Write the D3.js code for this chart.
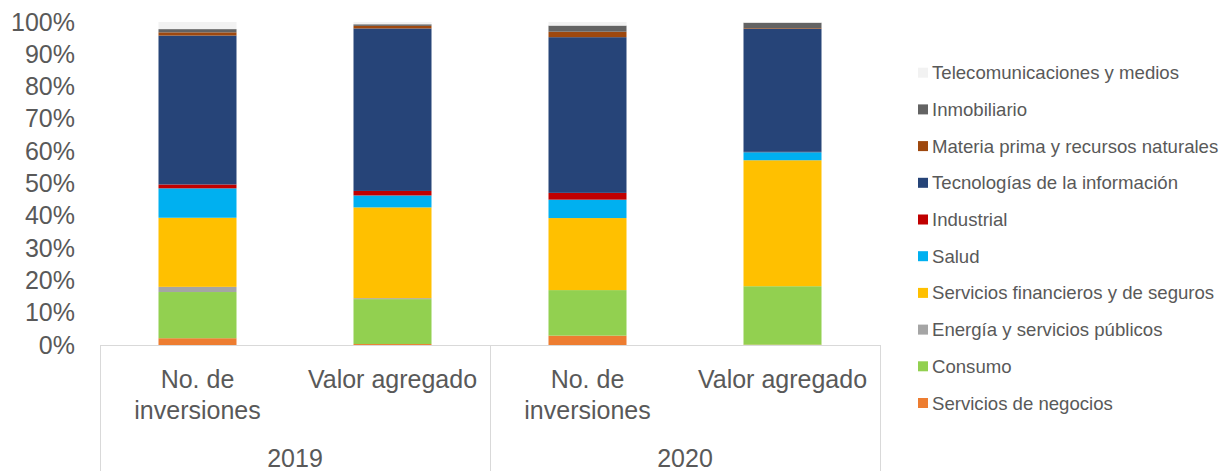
<!DOCTYPE html>
<html>
<head>
<meta charset="utf-8">
<script src="https://cdn.jsdelivr.net/npm/d3@7"></script>
<style>
  body { margin: 0; background: #fff; }
  text { font-family: "Liberation Sans", Arial, sans-serif; fill: #595959; }
</style>
</head>
<body>
<svg id="vis_svg" width="1230" height="471"></svg>
<script>
// bars, left to right
let categories = ['No. de inversiones', 'Valor agregado', 'No. de inversiones', 'Valor agregado'];
let years = ['2019', '2020'];
let yTicks = [0, 0.1, 0.2, 0.3, 0.4, 0.5, 0.6, 0.7, 0.8, 0.9, 1];

// stacked from bottom to top
let seriesNames = [
    'Servicios de negocios',
    'Consumo',
    'Energía y servicios públicos',
    'Servicios financieros y de seguros',
    'Salud',
    'Industrial',
    'Tecnologías de la información',
    'Materia prima y recursos naturales',
    'Inmobiliario',
    'Telecomunicaciones y medios'
];
let seriesColors = ['#ed7d31', '#92d050', '#a5a5a5', '#ffc000', '#00b0f0',
    '#c00000', '#264478', '#9e480e', '#636363', '#f2f2f2'];

// percent share per bar
let negocios     = [2.1, 0.3, 2.9, 0.1];
let consumo      = [14.3, 13.9, 14.1, 18.1];
let energia      = [1.6, 0.3, 0.0, 0.0];
let financieros  = [21.4, 28.1, 22.3, 39.0];
let salud        = [9.1, 3.7, 5.7, 2.5];
let industrial   = [1.2, 1.4, 2.1, 0.1];
let tecnologias  = [46.1, 50.3, 48.2, 38.1];
let materia      = [1.0, 0.8, 1.7, 0.2];
let inmobiliario = [1.0, 0.5, 1.9, 1.7];
let telecom      = [2.2, 0.7, 1.1, 0.2];

let seriesValues = [negocios, consumo, energia, financieros, salud,
    industrial, tecnologias, materia, inmobiliario, telecom];

function drawVis() {
    let svg = d3.select('svg#vis_svg');

    let left = 100, right = 880, top = 22, bottom = 345;

    // build rows for d3.stack
    let rows = categories.map(function(c, i) {
        let row = {key: i};
        seriesNames.forEach(function(s, j) {
            row[s] = seriesValues[j][i] / 100;
        });
        return row;
    });
    let stacked = d3.stack().keys(seriesNames)(rows);

    let x = d3.scaleBand()
        .domain(d3.range(categories.length))
        .range([left, right])
        .paddingInner(0.6)
        .paddingOuter(0.3);
    let y = d3.scaleLinear().domain([0, 1]).range([bottom, top]);
    let color = d3.scaleOrdinal().domain(seriesNames).range(seriesColors);

    // bars
    let layers = svg.append('g').selectAll('g')
        .data(stacked)
        .enter()
        .append('g')
        .attr('fill', d => color(d.key));
    layers.selectAll('rect')
        .data(d => d)
        .enter()
        .append('rect')
        .attr('x', d => x(d.data.key))
        .attr('width', x.bandwidth())
        .attr('y', d => y(d[1]))
        .attr('height', d => Math.max(0, y(d[0]) - y(d[1])));

    // y axis labels
    let yAxis = svg.append('g')
        .attr('transform', 'translate(75,0)')
        .call(d3.axisLeft(y).tickValues(yTicks).tickFormat(d3.format('.0%')).tickSize(0).tickPadding(0));
    yAxis.select('.domain').remove();
    yAxis.selectAll('text')
        .style('font-size', '25px')
        .attr('fill', '#595959');

    // category axis frame
    let lineColor = '#d9d9d9';
    let step = (right - left) / categories.length;
    svg.append('line')
        .attr('x1', left).attr('x2', right)
        .attr('y1', bottom + 0.5).attr('y2', bottom + 0.5)
        .attr('stroke', lineColor);
    [left, left + 2 * step, right].forEach(function(xx) {
        svg.append('line')
            .attr('x1', xx + 0.5).attr('x2', xx + 0.5)
            .attr('y1', bottom).attr('y2', 471)
            .attr('stroke', lineColor);
    });

    // category labels
    categories.forEach(function(c, i) {
        let cx = x(i) + x.bandwidth() / 2;
        let lines = c === 'No. de inversiones' ? ['No. de', 'inversiones'] : [c];
        let t = svg.append('text')
            .attr('x', cx)
            .attr('y', 388)
            .attr('text-anchor', 'middle')
            .style('font-size', '25px');
        lines.forEach(function(l, k) {
            t.append('tspan').attr('x', cx).attr('dy', k === 0 ? 0 : 31).text(l);
        });
    });
    years.forEach(function(yr, i) {
        svg.append('text')
            .attr('x', left + step * (2 * i + 1))
            .attr('y', 467)
            .attr('text-anchor', 'middle')
            .style('font-size', '25px')
            .text(yr);
    });

    // legend, top entry is last series
    let legendNames = seriesNames.slice().reverse();
    let legend = svg.append('g').selectAll('g')
        .data(legendNames)
        .enter()
        .append('g')
        .attr('transform', (d, i) => 'translate(918,' + (72.7 + i * 36.7) + ')');
    legend.append('rect')
        .attr('x', 0).attr('y', -5)
        .attr('width', 10).attr('height', 10)
        .attr('fill', d => color(d));
    legend.append('text')
        .attr('x', 14)
        .attr('dy', '0.35em')
        .style('font-size', '18.6px')
        .text(d => d);
}

drawVis();
</script>
</body>
</html>
